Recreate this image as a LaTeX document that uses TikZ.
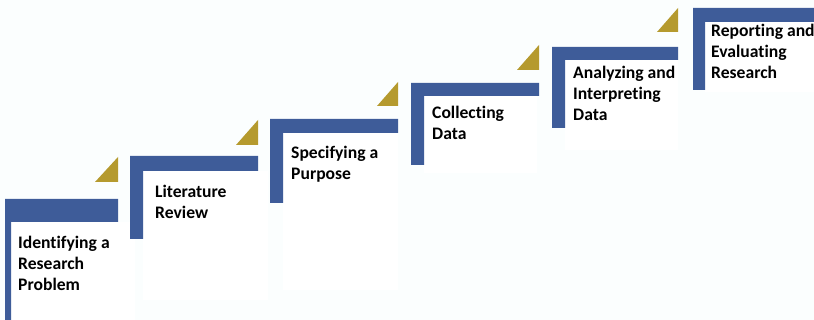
\documentclass[tikz,border=0pt]{standalone}
\usepackage{fontspec}
\setmainfont{Carlito}[Ligatures=NoCommon]
\usepackage{tikz}

\definecolor{stepblue}{HTML}{3E5C99}
\definecolor{stepgold}{HTML}{B59A2E}
\definecolor{paper}{HTML}{FBFEFE}

\tikzset{
  bar/.style={fill=stepblue,draw=none},
  tip/.style={fill=stepgold,draw=none},
  panel/.style={fill=white,draw=none},
  label/.style={anchor=north west,inner sep=0pt,align=left,
    font=\fontsize{17.6pt}{21pt}\selectfont\bfseries}
}

\begin{document}
\begin{tikzpicture}[x=1pt,y=-1pt]
\fill[paper] (0,0) rectangle (814,320);
\useasboundingbox (0,0) rectangle (814,320);

% white panels
\fill[panel] (11,222) rectangle (135,320);
\fill[panel] (143,171) rectangle (268,300);
\fill[panel] (283,133) rectangle (398,290);
\fill[panel] (424,96) rectangle (537,173);
\fill[panel] (565,60) rectangle (678,150);
\fill[panel] (705,22) rectangle (814,92);

% steps
\fill[bar] (5,199) -- (118,199) -- (118,222) -- (11,222) -- (11,320) -- (5,320) -- cycle;
\fill[bar] (130,156) -- (258,156) -- (258,171) -- (143,171) -- (143,239) -- (130,239) -- cycle;
\fill[bar] (270,119) -- (398,119) -- (398,133) -- (283,133) -- (283,203) -- (270,203) -- cycle;
\fill[bar] (411,83) -- (539,83) -- (539,96) -- (424,96) -- (424,165) -- (411,165) -- cycle;
\fill[bar] (552,47) -- (678,47) -- (678,60) -- (565,60) -- (565,128) -- (552,128) -- cycle;
\fill[bar] (693,8) -- (814,8) -- (814,22) -- (705,22) -- (705,90) -- (693,90) -- cycle;

% gold corners
\fill[tip] (95,182) -- (118,182) -- (118,157) -- cycle;
\fill[tip] (236,145) -- (258,145) -- (258,120) -- cycle;
\fill[tip] (377,106) -- (398,106) -- (398,82) -- cycle;
\fill[tip] (517,70) -- (539,70) -- (539,45) -- cycle;
\fill[tip] (657,32) -- (678,32) -- (678,8) -- cycle;

% labels
\node[label] (problem) at (18,236) {Identifying a\\Research\\Problem};
\node[label] (review) at (155,185) {Literature\\Review};
\node[label] (purpose) at (291,146) {Specifying a\\Purpose};
\node[label] (collect) at (432,106) {Collecting\\Data};
\node[label] (analyze) at (573,66) {Analyzing and\\Interpreting\\Data};
\node[label] (report) at (711,24) {Reporting and\\Evaluating\\Research};
\end{tikzpicture}
\end{document}
